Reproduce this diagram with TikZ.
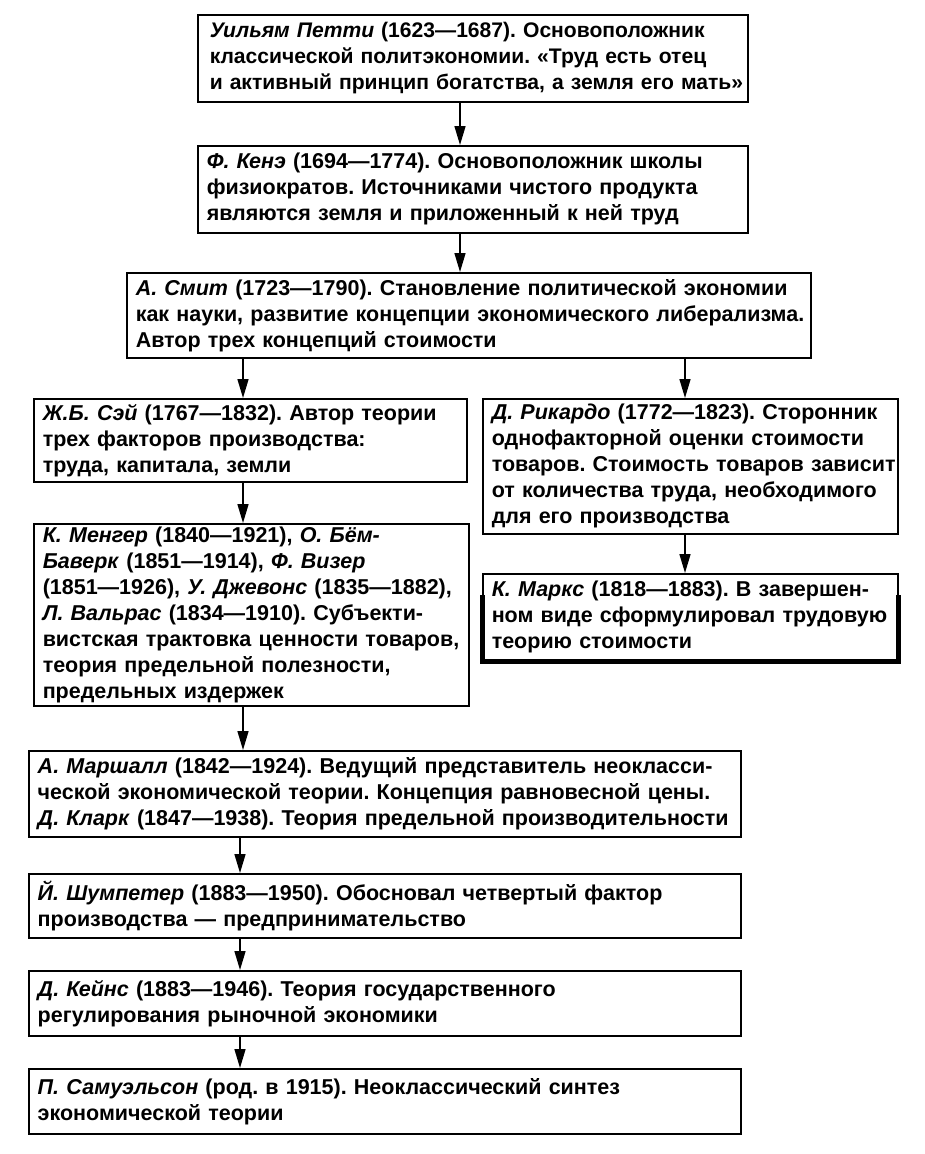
\documentclass[tikz,border=0pt]{standalone}
\usepackage{fontspec}
\setmainfont{Liberation Sans}
\usetikzlibrary{arrows.meta}
\newcommand\bl[1]{\mbox{#1}}
\begin{document}
\frenchspacing
\begin{tikzpicture}[x=1pt,y=-1pt,
  box/.style={draw, line width=1.5pt, inner xsep=9pt, inner ysep=0pt, align=left,
    anchor=north west, font=\fontsize{21.5}{26}\selectfont\bfseries},
  arr/.style={line width=1.5pt, -{Triangle[length=19pt,width=11pt]}}]
\useasboundingbox[fill=white] (0,0) rectangle (925,1154);

\node[box, minimum width=550pt, text width=526pt, inner xsep=12pt, minimum height=87pt,
  font=\fontsize{21.1}{26}\selectfont\bfseries] (petty) at (197,14)
 {\bl{\textit{Уильям Петти} (1623—1687). Основоположник}\\
  \bl{классической политэкономии. «Труд есть отец}\\
  \bl{и активный принцип богатства, а земля его мать»}};

\node[box, minimum width=550pt, text width=532pt, minimum height=87pt] (quesnay) at (197,145)
 {\bl{\textit{Ф. Кенэ} (1694—1774). Основоположник школы}\\
  \bl{физиократов. Источниками чистого продукта}\\
  \bl{являются земля и приложенный к ней труд}};

\node[box, minimum width=684pt, text width=666pt, minimum height=85pt] (smith) at (126,272)
 {\bl{\textit{А. Смит} (1723—1790). Становление политической экономии}\\
  \bl{как науки, развитие концепции экономического либерализма.}\\
  \bl{Автор трех концепций стоимости}};

\node[box, minimum width=433pt, text width=415pt, minimum height=83pt] (say) at (33,398)
 {\bl{\textit{Ж.Б. Сэй} (1767—1832). Автор теории}\\
  \bl{трех факторов производства:}\\
  \bl{труда, капитала, земли}};

\node[box, minimum width=415pt, text width=397pt, minimum height=135pt] (ricardo) at (482,398)
 {\bl{\textit{Д. Рикардо} (1772—1823). Сторонник}\\
  \bl{однофакторной оценки стоимости}\\
  \bl{товаров. Стоимость товаров зависит}\\
  \bl{от количества труда, необходимого}\\
  \bl{для его производства}};

\node[box, minimum width=435pt, text width=417pt, minimum height=182pt] (menger) at (33,523)
 {\bl{\textit{К. Менгер} (1840—1921), \textit{О. Бём-}}\\
  \bl{\textit{Баверк} (1851—1914), \textit{Ф. Визер}}\\
  \bl{(1851—1926), \textit{У. Джевонс} (1835—1882),}\\
  \bl{\textit{Л. Вальрас} (1834—1910). Субъекти-}\\
  \bl{вистская трактовка ценности товаров,}\\
  \bl{теория предельной полезности,}\\
  \bl{предельных издержек}};

\node[box, minimum width=415pt, text width=397pt, minimum height=87pt] (marx) at (482,573)
 {\bl{\textit{К. Маркс} (1818—1883). В завершен-}\\
  \bl{ном виде сформулировал трудовую}\\
  \bl{теорию стоимости}};
\draw[line width=5pt] ([yshift=-22pt]marx.north west) -- (marx.south west) -- (marx.south east) -- ([yshift=-22pt]marx.north east);

\node[box, minimum width=712pt, text width=694pt, minimum height=86pt] (marshall) at (28,750)
 {\bl{\textit{А. Маршалл} (1842—1924). Ведущий представитель неокласси-}\\
  \bl{ческой экономической теории. Концепция равновесной цены.}\\
  \bl{\textit{Д. Кларк} (1847—1938). Теория предельной производительности}};

\node[box, minimum width=712pt, text width=694pt, minimum height=64pt] (schump) at (28,873)
 {\bl{\textit{Й. Шумпетер} (1883—1950). Обосновал четвертый фактор}\\
  \bl{производства — предпринимательство}};

\node[box, minimum width=712pt, text width=694pt, minimum height=65pt] (keynes) at (28,970)
 {\bl{\textit{Д. Кейнс} (1883—1946). Теория государственного}\\
  \bl{регулирования рыночной экономики}};

\node[box, minimum width=712pt, text width=694pt, minimum height=65pt] (samuel) at (28,1068)
 {\bl{\textit{П. Самуэльсон} (род. в 1915). Неоклассический синтез}\\
  \bl{экономической теории}};

\draw[arr] (petty.south -| 460,0) -- (quesnay.north -| 460,0);
\draw[arr] (quesnay.south -| 460,0) -- (smith.north -| 460,0);
\draw[arr] (smith.south -| 243,0) -- (say.north -| 243,0);
\draw[arr] (smith.south -| 685,0) -- (ricardo.north -| 685,0);
\draw[arr] (say.south -| 243,0) -- (menger.north -| 243,0);
\draw[arr] (ricardo.south -| 685,0) -- (marx.north -| 685,0);
\draw[arr] (menger.south -| 243,0) -- (marshall.north -| 243,0);
\draw[arr] (marshall.south -| 240,0) -- (schump.north -| 240,0);
\draw[arr] (schump.south -| 240,0) -- (keynes.north -| 240,0);
\draw[arr] (keynes.south -| 240,0) -- (samuel.north -| 240,0);
\end{tikzpicture}
\end{document}
